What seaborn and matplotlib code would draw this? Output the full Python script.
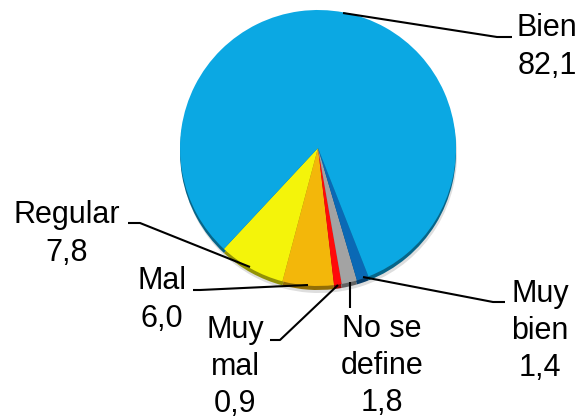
import seaborn as sns
import matplotlib.pyplot as plt
from matplotlib.colors import to_rgb

# --- Data ---
categories = ["Regular", "Mal", "Muy mal", "No se define", "Muy bien", "Bien"]
label_text = ["Regular\n7,8", "Mal\n6,0", "Muy\nmal\n0,9", "No se\ndefine\n1,8", "Muy\nbien\n1,4", "Bien\n82,1"]
values = [7.8, 6.0, 0.9, 1.8, 1.4, 82.1]

colors = ["#F4F40A", "#F3B70A", "#FF0A0A", "#A3A3A3", "#0A69B5", "#0BA8E3"]

sns.set_theme(style="white")
plt.rcParams["font.family"] = ["Liberation Sans", "DejaVu Sans"]

fig = plt.figure(figsize=(5.82, 4.18), dpi=100)
ax = fig.add_axes([0, 0, 1, 1])

cx, cy, r = 318, 270, 138
start = 227

# soft shadow + darker rim for the 3D look
ax.pie(values, colors=["#C8C8C8"] * len(values), radius=r, center=(cx + 1, cy - 7),
       startangle=start, wedgeprops=dict(linewidth=0, alpha=0.6), frame=True)
dark = [tuple(c * 0.6 for c in to_rgb(col)) for col in colors]
ax.pie(values, colors=dark, radius=r, center=(cx, cy - 4),
       startangle=start, wedgeprops=dict(linewidth=0), frame=True)
ax.pie(values, colors=colors, radius=r, center=(cx, cy),
       startangle=start, wedgeprops=dict(linewidth=0), frame=True)
ax.set_xlim(0, 582)
ax.set_ylim(0, 418)
ax.set_aspect("equal")
ax.axis("off")

# --- Labels ---
label_pos = {
    "Regular": (67, 184),
    "Mal": (162, 118),
    "Muy mal": (235, 51),
    "No se define": (382, 52),
    "Muy bien": (540, 87),
    "Bien": (547, 371),
}
for cat, txt in zip(categories, label_text):
    x, y = label_pos[cat]
    ax.text(x, y, txt, ha="center", va="center", fontsize=22,
            linespacing=1.32, color="black")

# leader lines (figure pixels, y up)
leaders = {
    "Regular": [(128, 195), (140, 195), (250, 151)],
    "Mal": [(193, 128), (200, 128), (308, 133)],
    "Muy mal": [(270, 78), (280, 78), (338, 133)],
    "No se define": [(350, 110), (350, 136)],
    "Muy bien": [(505, 116), (493, 116), (363, 141)],
    "Bien": [(512, 381), (497, 381), (343, 405)],
}
for pts in leaders.values():
    xs, ys = zip(*pts)
    ax.plot(xs, ys, color="black", linewidth=1.5, solid_capstyle="butt")

fig.savefig("out.png", dpi=100)
plt.close(fig)
